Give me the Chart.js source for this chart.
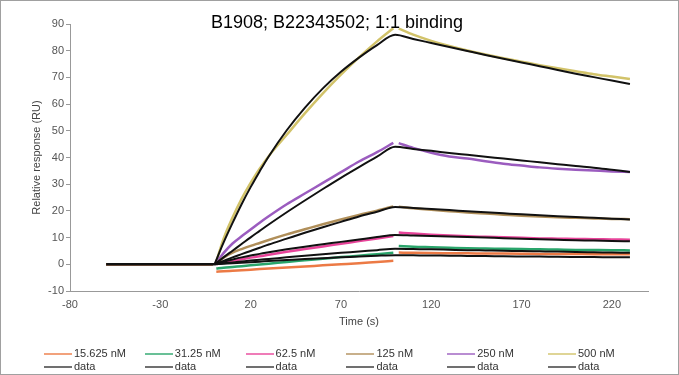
<!DOCTYPE html>
<html lang="en">
<head>
<meta charset="utf-8">
<title>B1908; B22343502; 1:1 binding</title>
<script src="https://cdn.jsdelivr.net/npm/chart.js@4.4.1/dist/chart.umd.min.js"></script>
<style>
    body { margin: 0; background: #fff; }
    #marco { position: relative; width: 679px; height: 375px; font-family: "Liberation Sans", Arial, sans-serif; }
    #grafico { position: absolute; left: 0; top: 0; }
    #borde { position: absolute; left: 0; top: 0; right: 0; bottom: 0; border: 1px solid #a0a0a0; pointer-events: none; }
    .item { position: absolute; font-size: 11px; color: #333; line-height: 13px; white-space: nowrap; }
    .item .linea { display: inline-block; width: 28px; height: 2px; vertical-align: middle; margin-right: 2px; opacity: 0.7; }
</style>
</head>
<body>
<div id="marco">
    <canvas id="grafico" width="679" height="375"></canvas>
    <div id="leyenda"></div>
    <div id="borde"></div>
</div>
<script>
const etiquetas = ["15.625 nM", "31.25 nM", "62.5 nM", "125 nM", "250 nM", "500 nM"];
const ticksX = [-80, -30, 20, 70, 120, 170, 220];
const ticksY = [-10, 0, 10, 20, 30, 40, 50, 60, 70, 80, 90];

//tiempos de las curvas medidas (null = hueco en la inyeccion)
const tData = [-60, -1, 0, 1, 5, 10, 15, 20, 25, 30, 40, 50, 60, 70, 80, 90, 99, 100.5, 102, 110, 120, 130, 140, 150, 160, 170, 180, 190, 200, 210, 220, 230];
const c15625 = [0, 0, null, -2.8, -2.6, -2.4, -2.2, -2.0, -1.8, -1.6, -1.2, -0.8, -0.4, 0.0, 0.4, 0.9, 1.3, null, 4.4, 4.3, 4.2, 4.15, 4.1, 4.05, 4.0, 3.95, 3.9, 3.9, 3.85, 3.8, 3.8, 3.75];
const c3125 = [0, 0, null, -1.6, -1.3, -1.0, -0.7, -0.4, -0.1, 0.2, 0.9, 1.5, 2.1, 2.7, 3.2, 3.8, 4.3, null, 6.9, 6.6, 6.4, 6.2, 6.0, 5.9, 5.8, 5.7, 5.6, 5.5, 5.4, 5.35, 5.3, 5.2];
const c625 = [0, 0, null, 0, 0.7, 1.3, 1.9, 2.5, 3.0, 3.6, 4.7, 5.7, 6.7, 7.7, 8.7, 9.7, 10.6, null, 11.9, 11.5, 11.1, 10.8, 10.5, 10.3, 10.1, 9.9, 9.7, 9.6, 9.5, 9.4, 9.3, 9.2];
const c125 = [0, 0, null, 0.3, 2.5, 4.4, 5.7, 6.9, 8.0, 9.1, 11.2, 13.1, 15.0, 16.8, 18.5, 20.1, 21.7, null, 21.6, 21.0, 20.4, 19.9, 19.4, 19.0, 18.6, 18.2, 17.9, 17.6, 17.4, 17.2, 17.0, 16.9];
const c250 = [0, 0, null, 0.5, 4.2, 7.8, 10.5, 13.0, 15.6, 18.0, 22.5, 26.5, 30.5, 34.5, 38.5, 42.0, 45.5, null, 45.4, 43.6, 41.8, 40.4, 39.6, 38.6, 37.7, 37.0, 36.3, 35.8, 35.4, 35.1, 34.8, 34.6];
const c500 = [0, 0, null, 1.0, 9.5, 17.5, 24.5, 30.5, 35.8, 40.5, 48.5, 56.5, 64.0, 71.0, 77.5, 83.5, 88.4, null, 88.3, 86.0, 83.7, 81.8, 80.1, 78.6, 77.2, 75.9, 74.6, 73.4, 72.3, 71.2, 70.3, 69.4];

//linea base comun de los ajustes
const tBase = [-60, 0];
const base = [0, 0];

//tiempos del ajuste 1:1 (lineas negras "data")
const tFit = [0, 5, 10, 15, 20, 25, 30, 40, 50, 60, 70, 80, 90, 100, 110, 120, 130, 140, 150, 160, 170, 180, 190, 200, 210, 220, 230];
const f15625 = [0, 0.2, 0.4, 0.6, 0.8, 1.0, 1.2, 1.6, 2.0, 2.3, 2.6, 2.9, 3.2, 3.4, 3.35, 3.3, 3.2, 3.15, 3.1, 3.0, 2.95, 2.9, 2.8, 2.75, 2.7, 2.65, 2.6];
const f3125 = [0, 0.35, 0.7, 1.05, 1.4, 1.7, 2.0, 2.6, 3.2, 3.8, 4.3, 4.8, 5.3, 5.8, 5.7, 5.6, 5.45, 5.3, 5.2, 5.1, 4.95, 4.85, 4.75, 4.6, 4.5, 4.4, 4.3];
const f625 = [0, 0.95, 1.8, 2.6, 3.3, 3.9, 4.5, 5.6, 6.6, 7.5, 8.4, 9.3, 10.2, 11.0, 10.8, 10.6, 10.4, 10.2, 10.0, 9.8, 9.6, 9.4, 9.2, 9.0, 8.9, 8.7, 8.6];
const f125 = [0, 1.3, 2.6, 3.8, 5.0, 6.2, 7.4, 9.6, 11.8, 13.9, 15.9, 17.9, 19.7, 21.5, 21.1, 20.7, 20.3, 19.9, 19.5, 19.1, 18.7, 18.4, 18.0, 17.7, 17.4, 17.1, 16.8];
const f250 = [0, 2.6, 5.1, 7.6, 10.1, 12.5, 14.9, 19.5, 23.9, 28.2, 32.4, 36.4, 40.3, 44.0, 43.2, 42.5, 41.7, 41.0, 40.3, 39.6, 38.9, 38.2, 37.5, 36.8, 36.2, 35.4, 34.6];
const f500 = [0, 8.1, 15.5, 22.5, 28.9, 34.8, 40.4, 50.2, 58.6, 65.9, 72.1, 77.4, 82.1, 86.0, 84.4, 82.9, 81.4, 79.9, 78.4, 77.0, 75.6, 74.2, 72.8, 71.4, 70.1, 68.8, 67.5];

const colores = ["#ec7a45", "#2aa56b", "#e8449a", "#b08f5a", "#9b5cbf", "#d2c36a"];
const medidas = [c15625, c3125, c625, c125, c250, c500];
const ajustes = [f15625, f3125, f625, f125, f250, f500];
const fuente = "'Liberation Sans', Arial, sans-serif";

const puntos = (tiempos, valores) => tiempos.map((t, i) => ({ x: t, y: valores[i] }));

const datasets = [];
medidas.forEach((valores, i) => {
    datasets.push({
        label: etiquetas[i],
        data: puntos(tData, valores),
        borderColor: colores[i],
        borderWidth: 2.5,
        pointRadius: 0,
        cubicInterpolationMode: "monotone",
        spanGaps: false,
        order: 1
    });
});
ajustes.forEach(valores => {
    datasets.push({
        label: "data",
        data: puntos(tFit, valores),
        borderColor: "#111",
        borderWidth: 2,
        pointRadius: 0,
        cubicInterpolationMode: "monotone",
        order: 0
    });
});
//tramo previo a la inyeccion (no va en la leyenda)
datasets.push({
    label: "base",
    data: puntos(tBase, base),
    borderColor: "#111",
    borderWidth: 2.5,
    pointRadius: 0,
    order: 0
});

//titulo encima del area del grafico
const tituloPlugin = {
    id: "tituloSuperpuesto",
    afterDraw: chart => {
        const c = chart.ctx;
        c.save();
        c.font = "18px " + fuente;
        c.fillStyle = "#000";
        c.textAlign = "center";
        c.textBaseline = "alphabetic";
        c.fillText("B1908; B22343502; 1:1 binding", 337, 28);
        c.restore();
    }
};

const ctx = document.getElementById("grafico").getContext("2d");
const grafico = new Chart(ctx, {
    type: "line",
    data: { datasets: datasets },
    options: {
        responsive: false,
        animation: false,
        events: [],
        layout: { padding: { left: 0, top: 24, right: 31, bottom: 39 } },
        plugins: { legend: { display: false }, tooltip: { enabled: false } },
        scales: {
            x: {
                type: "linear",
                min: -80,
                max: 240,
                afterBuildTicks: s => { s.ticks = ticksX.map(v => ({ value: v })); },
                afterFit: s => { s.height = 45; },
                grid: { display: true, drawOnChartArea: false, drawTicks: false },
                border: { color: "#999", width: 1 },
                ticks: { padding: 7, color: "#555", autoSkip: false, maxRotation: 0, font: { size: 11, family: fuente } },
                title: { display: true, text: "Time (s)", color: "#444", font: { size: 11, family: fuente }, padding: { top: 0, bottom: 7 } }
            },
            y: {
                type: "linear",
                min: -10,
                max: 90,
                afterBuildTicks: s => { s.ticks = ticksY.map(v => ({ value: v })); },
                afterFit: s => { s.width = 70; },
                grid: { display: true, drawOnChartArea: false, drawTicks: true, tickLength: 4, color: "#999" },
                border: { color: "#999", width: 1 },
                ticks: { padding: 2, color: "#555", font: { size: 11, family: fuente } },
                title: { display: true, text: "Relative response (RU)", color: "#444", font: { size: 11, family: fuente }, padding: { top: 30, bottom: 0 } }
            }
        }
    },
    plugins: [tituloPlugin]
});

//leyenda en dos filas: medidas arriba, ajustes abajo
const leyenda = document.getElementById("leyenda");
grafico.data.datasets.slice(0, 12).forEach((ds, i) => {
    const col = i % 6;
    const fila = Math.floor(i / 6);
    const item = document.createElement("div");
    item.className = "item";
    item.style.left = (44 + col * 100.8) + "px";
    item.style.top = (347 + fila * 12.6) + "px";
    const linea = document.createElement("span");
    linea.className = "linea";
    linea.style.background = fila === 0 ? ds.borderColor : "#333";
    item.appendChild(linea);
    item.appendChild(document.createTextNode(ds.label));
    leyenda.appendChild(item);
});
</script>
</body>
</html>
